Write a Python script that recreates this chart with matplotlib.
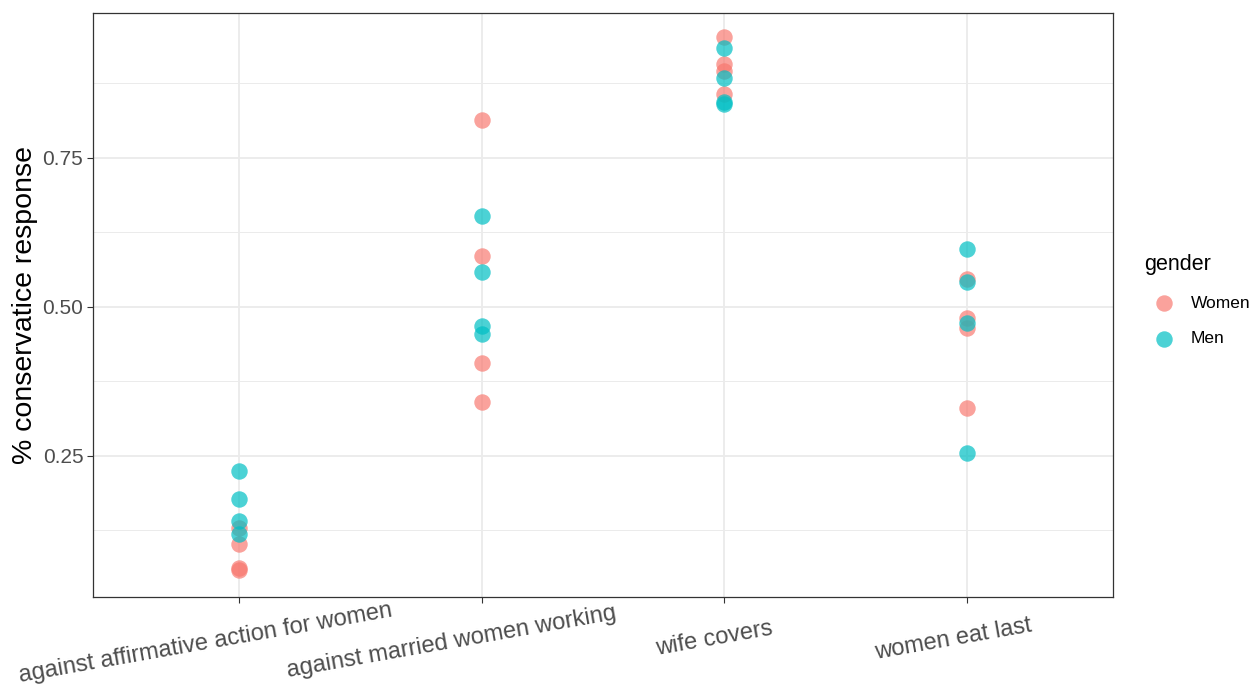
import matplotlib.pyplot as plt
import matplotlib.transforms as mtransforms
import numpy as np

plt.rcParams['font.family'] = ['Liberation Sans', 'DejaVu Sans']

# data
categories = ['against affirmative action for women', 'against married women working',
              'wife covers', 'women eat last']
women = [
    [0.128, 0.102, 0.062, 0.058],
    [0.814, 0.586, 0.406, 0.341],
    [0.953, 0.907, 0.895, 0.858],
    [0.546, 0.481, 0.465, 0.331],
]
men = [
    [0.224, 0.177, 0.140, 0.118],
    [0.653, 0.559, 0.468, 0.455],
    [0.935, 0.884, 0.843, 0.841],
    [0.597, 0.541, 0.473, 0.255],
]
yticks = [0.25, 0.50, 0.75]

fig = plt.figure(figsize=(12.57, 6.88), dpi=100)
ax = fig.add_axes([0.074, 0.1323, 0.8115, 0.8487])

for i in range(len(categories)):
    ax.scatter([i] * len(women[i]), women[i], s=140, color='#F8766D', alpha=0.68,
               linewidths=0, zorder=3, label='Women' if i == 0 else None)
for i in range(len(categories)):
    ax.scatter([i] * len(men[i]), men[i], s=140, color='#00BFC4', alpha=0.7,
               linewidths=0, zorder=3, label='Men' if i == 0 else None)

ax.set_xlim(-0.6, len(categories) - 0.4)
ax.set_ylim(0.013, 0.993)
ax.set_xticks(range(len(categories)))
ax.set_xticklabels([])
ax.set_yticks(yticks)
ax.set_yticklabels(['%.2f' % v for v in yticks], fontsize=15, color='#4D4D4D')
ax.set_yticks([0.125, 0.375, 0.625, 0.875], minor=True)
ax.tick_params(axis='both', which='major', length=4, width=0.8, color='#333333', pad=3)
ax.tick_params(axis='y', which='minor', length=0)
ax.grid(True, which='major', color='#EBEBEB', linewidth=1.3, zorder=0)
ax.grid(True, which='minor', axis='y', color='#EBEBEB', linewidth=0.7, zorder=0)
ax.set_axisbelow(True)
for sp in ax.spines.values():
    sp.set_color('#333333')
    sp.set_linewidth(0.9)

# rotated category labels, anchored a bit right of centre like ggplot's hjust
renderer = fig.canvas.get_renderer()
ang = np.deg2rad(10)
base = ax.get_xaxis_transform()
for i, lab in enumerate(categories):
    tmp = fig.text(0, 0, lab, fontsize=17)
    w = tmp.get_window_extent(renderer).width
    tmp.remove()
    shift = 0.09 * w
    tr = mtransforms.offset_copy(base, fig=fig, x=-shift * np.cos(ang),
                                 y=-shift * np.sin(ang), units='dots')
    ax.text(i, -0.0685, lab, transform=tr, rotation=10, rotation_mode='anchor',
            ha='center', va='center', fontsize=17, color='#4D4D4D', clip_on=False)

ax.set_ylabel('% conservatice response', fontsize=20.5, labelpad=3)

leg = ax.legend(title='gender', loc='upper left', bbox_to_anchor=(1.03, 0.587),
                borderaxespad=0, borderpad=0, frameon=False, fontsize=12.5,
                title_fontsize=15.5, handletextpad=0.4, labelspacing=1.17,
                handlelength=2.3)
leg._legend_box.align = 'left'

fig.savefig('out.png', dpi=100)
